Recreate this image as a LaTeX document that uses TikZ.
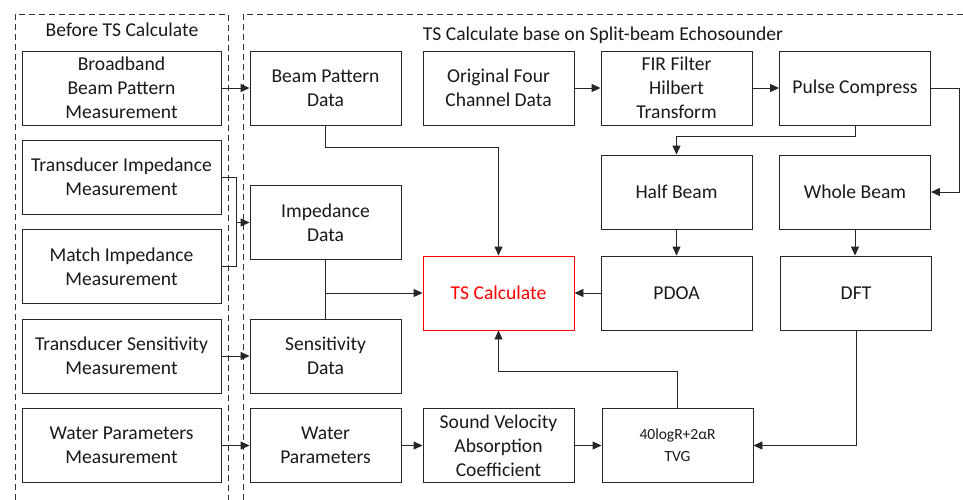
\documentclass[tikz,border=0pt]{standalone}
\usepackage{fontspec}
\setmainfont{Carlito}
\usetikzlibrary{arrows.meta}
\begin{document}
\begin{tikzpicture}[x=1pt,y=-1pt,
  box/.style={draw=black!85, line width=0.9pt, minimum width=151pt, minimum height=74pt, inner sep=1pt, align=center, font=\fontsize{19.6}{24}\selectfont, text=black!90},
  wbox/.style={box, minimum width=199pt},
  frame/.style={draw=black!80, line width=0.8pt, dash pattern=on 6pt off 4pt},
  conn/.style={draw=black!85, line width=0.9pt},
  arr/.style={conn, -{Triangle[length=9pt,width=8pt]}},
  ttl/.style={font=\fontsize{19.6}{24}\selectfont, text=black!90}]
\useasboundingbox (0,0) rectangle (963,500);
\clip (0,0) rectangle (963,500);
% frames
\draw[frame] (15,520) -- (15,14) -- (228,14) -- (228,520);
\draw[frame] (243,520) -- (243,14) -- (990,14);
\node[ttl] (t1) at (122,30) {Before TS Calculate};
\node[ttl] (t2) at (603,35) {TS Calculate base on Split-beam Echosounder};
% left column
\node[wbox] (bb) at (121.5,88) {Broadband\\Beam Pattern\\Measurement};
\node[wbox] (ti) at (121.5,177) {Transducer Impedance\\Measurement};
\node[wbox] (mi) at (121.5,266.5) {Match Impedance\\Measurement};
\node[wbox] (tsm) at (121.5,356) {Transducer Sensitivity\\Measurement};
\node[wbox] (wm) at (121.5,445.5) {Water Parameters\\Measurement};
% second column
\node[box] (bpd) at (325.5,88) {Beam Pattern\\Data};
\node[box] (imp) at (325.5,222.5) {Impedance\\Data};
\node[box] (sen) at (325.5,356) {Sensitivity\\Data};
\node[box] (wat) at (325.5,445.5) {Water\\Parameters};
% third column
\node[box] (ori) at (498.5,88) {Original Four\\Channel Data};
\node[box, draw=red, text=red] (tsc) at (498.5,293) {TS Calculate};
\node[box] (svc) at (498.5,445.5) {Sound Velocity\\Absorption\\Coefficient};
% fourth column
\node[box] (fir) at (676.5,88) {FIR Filter\\Hilbert\\Transform};
\node[box] (hb) at (676.5,192) {Half Beam};
\node[box] (pdoa) at (676.5,293) {PDOA};
\node[box, font=\fontsize{15.5}{22}\selectfont] (tvg) at (677.5,445.5) {40logR+2αR\\TVG};
% fifth column
\node[box] (pc) at (855,88) {Pulse Compress};
\node[box] (wb) at (855,192) {Whole Beam};
\node[box] (dft) at (856,293) {DFT};
% junctions
\coordinate (j1) at (236,222.5);
\coordinate (k1) at (498.5,147);
\coordinate (k2) at (325.5,293);
\coordinate (k3) at (676.5,136);
\coordinate (k4) at (959,88);
\coordinate (k5) at (498.5,371);
% connectors
\draw[arr] (bb) -- (bpd);
\draw[conn] (ti.east) -| (j1);
\draw[conn] (mi.east) -| (j1);
\draw[arr] (j1) -- (imp.west);
\draw[arr] (tsm) -- (sen);
\draw[arr] (wm) -- (wat);
\draw[arr] (bpd.south) |- (k1) -- (tsc.north);
\draw[conn] (imp.south) -- (sen.north);
\draw[arr] (k2) -- (tsc.west);
\draw[arr] (pdoa) -- (tsc);
\draw[arr] (ori) -- (fir);
\draw[arr] (fir) -- (pc);
\draw[arr] (pc.south) |- (k3) -- (hb.north);
\draw[arr] (pc.east) -- (k4) |- (wb.east);
\draw[arr] (hb) -- (pdoa);
\draw[arr] (wb.south) -- (wb.south |- dft.north);
\draw[arr] (dft.south) |- (tvg.east);
\draw[arr] (tvg.north) |- (k5) -- (tsc.south);
\draw[arr] (wat) -- (svc);
\draw[arr] (svc) -- (tvg);
\end{tikzpicture}
\end{document}
